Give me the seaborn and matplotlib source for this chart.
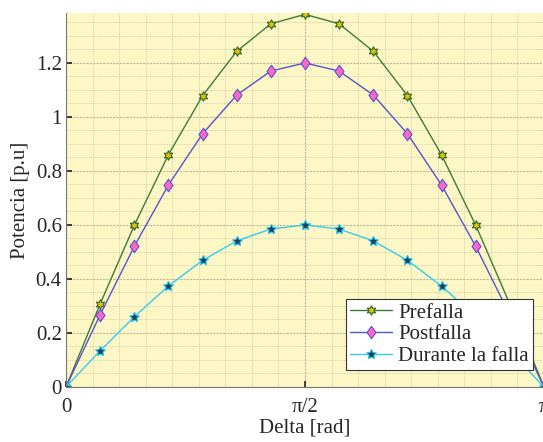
import numpy as np
import pandas as pd
import matplotlib
matplotlib.use("Agg")
import matplotlib.pyplot as plt
from matplotlib.ticker import MultipleLocator
from matplotlib.path import Path
import seaborn as sns

delta = [0.0, 0.224, 0.449, 0.673, 0.898, 1.122, 1.346, 1.571,
         1.795, 2.020, 2.244, 2.468, 2.693, 2.917, 3.1416]
prefalla = [0.0, 0.307, 0.599, 0.860, 1.079, 1.243, 1.345, 1.38,
            1.345, 1.243, 1.079, 0.860, 0.599, 0.307, 0.0]
postfalla = [0.0, 0.267, 0.521, 0.748, 0.938, 1.081, 1.170, 1.2,
             1.170, 1.081, 0.938, 0.748, 0.521, 0.267, 0.0]
durante = [0.0, 0.134, 0.260, 0.374, 0.469, 0.541, 0.585, 0.6,
           0.585, 0.541, 0.469, 0.374, 0.260, 0.134, 0.0]
series_names = ["Prefalla", "Postfalla", "Durante la falla"]
xtick_vals = [0.0, 1.5708, 3.1416]
xtick_labels = ["0", "π/2", "π"]
ytick_vals = [0, 0.2, 0.4, 0.6, 0.8, 1.0, 1.2]
ytick_labels = ["0", "0.2", "0.4", "0.6", "0.8", "1", "1.2"]

sns.set_theme(style="white")
plt.rcParams["font.family"] = ["Liberation Serif", "DejaVu Serif"]

fig = plt.figure(figsize=(5.43, 4.42), dpi=100)
ax = fig.add_axes([66/543, 1 - 387/442, 478/543, (387-13)/442])
ax.set_facecolor("#FDF7C6")

diamond = Path([(0, 1), (0.72, 0), (0, -1), (-0.72, 0), (0, 1)],
               [Path.MOVETO, Path.LINETO, Path.LINETO, Path.LINETO, Path.CLOSEPOLY])

styles = [
    dict(color="#3E7A3E", marker=(6, 1, 0), markersize=7,
         markerfacecolor="#E8C000", markeredgecolor="#2E6A2E"),
    dict(color="#5555CC", marker=diamond, markersize=9,
         markerfacecolor="#FF66CC", markeredgecolor="#5555CC"),
    dict(color="#33CCEE", marker=(5, 1, 0), markersize=7.5,
         markerfacecolor="#1F3F5F", markeredgecolor="#33CCEE"),
]
for name, vals, st in zip(series_names, [prefalla, postfalla, durante], styles):
    df = pd.DataFrame({"Delta": delta, "P": vals})
    sns.lineplot(data=df, x="Delta", y="P", ax=ax, label=name,
                 linewidth=1.0, markeredgewidth=0.8, **st)

ax.set_xlim(0, 3.1416)
ax.set_ylim(0, 1.385)
ax.set_xticks(xtick_vals)
ax.set_xticklabels(xtick_labels)
ax.set_yticks(ytick_vals)
ax.set_yticklabels(ytick_labels)
ax.xaxis.set_minor_locator(MultipleLocator(3.1416/18))
ax.yaxis.set_minor_locator(MultipleLocator(0.05))
ax.grid(True, which="major", color="#BDB9A0", linestyle=(0, (2, 1)), linewidth=0.8)
ax.grid(True, which="minor", color="#DAD5B2", linestyle=(0, (2, 1)), linewidth=0.6)
ax.set_axisbelow(True)
ax.tick_params(axis="both", which="major", direction="in", length=4,
               labelsize=15, colors="#262626", left=True, bottom=True, pad=3)
ax.tick_params(axis="x", which="major", pad=8)
ax.tick_params(axis="both", which="minor", length=0)
for s in ["top", "right"]:
    ax.spines[s].set_visible(False)
for s in ["left", "bottom"]:
    ax.spines[s].set_color("#777777")
    ax.spines[s].set_linewidth(0.8)

ax.set_xlabel("Delta [rad]", fontsize=15, color="#262626", labelpad=1)
ax.set_ylabel("Potencia [p.u]", fontsize=15, color="#262626", labelpad=4)

leg = ax.legend(loc="lower right", bbox_to_anchor=(0.977, 0.045), fontsize=15,
                frameon=True, fancybox=False, framealpha=1, edgecolor="#333333",
                borderpad=0.2, labelspacing=0.1, handlelength=2.0,
                handletextpad=0.3, borderaxespad=0)
leg.get_frame().set_linewidth(0.8)

fig.savefig("out.png", dpi=100)
